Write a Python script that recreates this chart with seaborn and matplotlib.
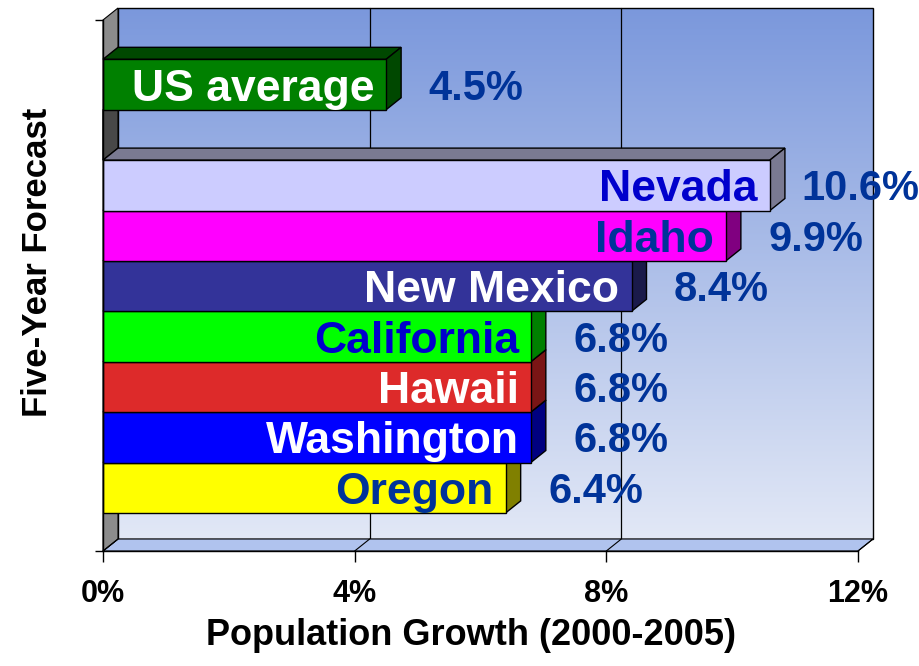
"""
Five-Year Forecast - Population Growth (2000-2005)
Horizontal bars with a fake 3D look (depth faces, back wall, floor).
"""
import numpy as np
import pandas as pd
import matplotlib
matplotlib.use("Agg")
import matplotlib.pyplot as plt
import seaborn as sns
from matplotlib.patches import Polygon, Rectangle
from matplotlib.colors import to_rgb

# ---- data ----
regions = ["US average", "Nevada", "Idaho", "New Mexico",
           "California", "Hawaii", "Washington", "Oregon"]
growth = [4.5, 10.6, 9.9, 8.4, 6.8, 6.8, 6.8, 6.4]
# blank slot keeps the gap between the US average and the states
slot_order = ["US average", " ", "Nevada", "Idaho", "New Mexico",
              "California", "Hawaii", "Washington", "Oregon"]
x_ticks = [0, 4, 8, 12]
x_tick_labels = ["0%", "4%", "8%", "12%"]

front_colors = ["#008000", "#ccccff", "#ff00ff", "#333399",
                "#00ff00", "#dd2a2a", "#0000ff", "#ffff00"]
side_colors = ["#004800", "#7a7a92", "#800080", "#1a1a4a",
               "#008000", "#7a1515", "#000080", "#808000"]
name_colors = ["white", "#0000cc", "#003399", "white",
               "#0000cc", "white", "white", "#003399"]
value_color = "#003399"

df = pd.DataFrame({"region": regions, "growth": growth})

sns.set_style("white")
plt.rcParams["font.family"] = ["Liberation Sans", "DejaVu Sans"]
plt.rcParams["text.color"] = "black"

fig = plt.figure(figsize=(9.19, 6.66), dpi=100)
ax = fig.add_axes([103 / 919, 115 / 666, 755 / 919, 531 / 666])

sns.barplot(data=df, x="growth", y="region", order=slot_order, hue="region",
            palette=dict(zip(regions, front_colors)), width=1.0, saturation=1,
            edgecolor="black", linewidth=1, legend=False, ax=ax)
bars = [p for p in ax.patches if isinstance(p, Rectangle) and p.get_width() > 0]

XMAX = 12
YB, YT = 9.256, -1.28
ax.set_xlim(0, XMAX)
ax.set_ylim(YB, YT)

# depth offset (pixels) -> data units
DEPTH_PX = np.array([15, 12])
inv = ax.transData.inverted()
dx, dy = inv.transform(ax.transData.transform((0, 0)) + DEPTH_PX)

# back wall with vertical gradient
top_c = np.array(to_rgb("#7b98dc"))
bot_c = np.array(to_rgb("#e2e8f6"))
t = np.linspace(0, 1, 256)[:, None, None]
grad = top_c + (bot_c - top_c) * t
im = ax.imshow(grad, extent=(dx, XMAX + dx, YB + dy, YT + dy), aspect="auto",
               origin="upper", zorder=0, interpolation="bilinear")
im.set_clip_on(False)
ax.add_patch(Rectangle((dx, YT + dy), XMAX, YB - YT, fill=False, ec="black",
                       lw=1, zorder=0.5, clip_on=False))
for x in x_ticks[1:-1]:
    ax.plot([x + dx, x + dx], [YT + dy, YB + dy], color="black", lw=0.9,
            zorder=0.6, clip_on=False)

# floor and left wall
ax.add_patch(Polygon([(0, YB), (XMAX, YB), (XMAX + dx, YB + dy), (dx, YB + dy)],
                     closed=True, fc="#b0c3ee", ec="black", lw=0.8,
                     zorder=0.7, clip_on=False))
for x in x_ticks:
    ax.plot([x, x + dx], [YB, YB + dy], color="black", lw=0.8,
            zorder=0.8, clip_on=False)
ax.add_patch(Polygon([(0, YT), (0, YB), (dx, YB + dy), (dx, YT + dy)],
                     closed=True, fc="#8c8c8c", ec="black", lw=0.8,
                     zorder=0.7, clip_on=False))

# 3D faces + labels for every bar
for p in bars:
    y0, h, w = p.get_y(), p.get_height(), p.get_width()
    slot = int(round(y0 + h / 2))
    k = regions.index(slot_order[slot])
    z = 10 + (10 - slot) * 3
    p.set_zorder(z)
    top = [(0, y0), (w, y0), (w + dx, y0 + dy), (dx, y0 + dy)]
    side = [(w, y0), (w, y0 + h), (w + dx, y0 + h + dy), (w + dx, y0 + dy)]
    for face in (top, side):
        ax.add_patch(Polygon(face, closed=True, fc=side_colors[k], ec="black",
                             lw=1, zorder=z - 1, clip_on=False))
    ax.annotate(regions[k], (w, slot), xytext=(-12, -16),
                textcoords="offset pixels", ha="right", va="baseline",
                fontsize=32, fontweight="bold", color=name_colors[k],
                zorder=z + 0.5)
    ax.annotate(f"{growth[k]:.1f}%", (w, slot), xytext=(90, -15),
                textcoords="offset pixels", ha="center", va="baseline",
                fontsize=30, fontweight="bold", color=value_color,
                zorder=60, annotation_clip=False)

# shade on the left wall under the US average bar
us_bar = [p for p in bars if int(round(p.get_y() + p.get_height() / 2)) == 0][0]
nv_bar = [p for p in bars if int(round(p.get_y() + p.get_height() / 2)) == 2][0]
ya, yb_ = us_bar.get_y() + us_bar.get_height(), nv_bar.get_y()
ax.add_patch(Polygon([(0, ya), (0, yb_), (dx, yb_ + dy), (dx, ya + dy)],
                     closed=True, fc="#484848", ec="black", lw=0.8,
                     zorder=0.9, clip_on=False))

# axes, ticks, labels
ax.set_xticks(x_ticks)
ax.set_xticklabels(x_tick_labels, fontsize=22, fontweight="bold", color="black")
ax.set_yticks([YB, YT])
ax.set_yticklabels(["", ""])
ax.tick_params(axis="x", bottom=True, length=8, width=1, pad=12, colors="black")
ax.tick_params(axis="y", left=True, length=6, width=1, colors="black")
for s in ["top", "right"]:
    ax.spines[s].set_visible(False)
for s in ["left", "bottom"]:
    ax.spines[s].set_color("black")
    ax.spines[s].set_linewidth(1)
    ax.spines[s].set_zorder(80)
ax.patch.set_visible(False)

ax.set_xlabel("Population Growth (2000-2005)", fontsize=26, fontweight="bold",
              color="black")
ax.set_ylabel("Five-Year Forecast", fontsize=25, fontweight="bold",
              color="black")
ax.xaxis.set_label_coords((471 - 103) / 755, (551 - 618) / 531)
ax.yaxis.set_label_coords((54 - 103) / 755, (551 - 262) / 531)

fig.savefig("out.png", dpi=100)
plt.close(fig)
